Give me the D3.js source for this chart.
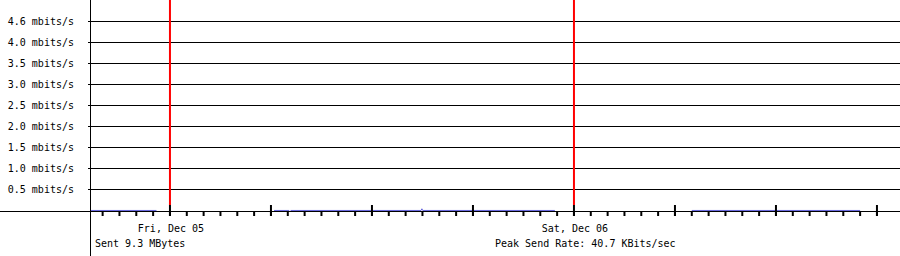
<!DOCTYPE html>
<html>
<head>
<meta charset="utf-8">
<script src="https://cdn.jsdelivr.net/npm/d3@7"></script>
<style>
  html, body { margin: 0; padding: 0; background: #fff; }
  svg { display: block; }
</style>
</head>
<body>
<svg id="chart" width="900" height="256"></svg>
<script>
  // y axis ticks (mbits/s) and their printed labels
  var yTickValues = [0.5, 1, 1.5, 2, 2.5, 3, 3.5, 4, 4.5];
  var yTickLabels = ["0.5 mbits/s", "1.0 mbits/s", "1.5 mbits/s", "2.0 mbits/s",
    "2.5 mbits/s", "3.0 mbits/s", "3.5 mbits/s", "4.0 mbits/s", "4.6 mbits/s"];

  // day boundaries (red markers) and their labels
  var dayTimes = ["2025-12-05T00:00", "2025-12-06T00:00"];
  var dayLabels = ["Fri, Dec 05", "Sat, Dec 06"];

  // send rate in mbits/s, null = no data
  var sendTimes = [
    "2025-12-04T19:15", "2025-12-04T23:12", "2025-12-04T23:20",
    "2025-12-05T06:11", "2025-12-05T07:05", "2025-12-05T07:07",
    "2025-12-05T07:10", "2025-12-05T14:55", "2025-12-05T14:58",
    "2025-12-05T15:01", "2025-12-05T22:52", "2025-12-05T23:00",
    "2025-12-06T07:00", "2025-12-06T17:00"
  ];
  var sendValues = [
    0.001, 0.001, null,
    0.001, 0.001, null,
    0.001, 0.001, 0.0407,
    0.001, 0.001, null,
    0.001, 0.001
  ];

  var legendLeft = "Sent 9.3 MBytes";
  var legendRight = "Peak Send Rate: 40.7 KBits/sec";

  var parse = d3.timeParse("%Y-%m-%dT%H:%M");
  var font = "'DejaVu Sans Mono', 'Liberation Mono', monospace";

  var svg = d3.select("#chart");

  var xScale = d3.scaleTime()
    .domain([parse("2025-12-04T19:15"), parse("2025-12-06T18:40")])
    .range([90, 90 + 16.8333 * 47.4167]);

  var yScale = d3.scaleLinear()
    .domain([0, 5])
    .range([210.5, 0.5]);

  // grid + y labels
  var yAxis = d3.axisLeft(yScale)
    .tickValues(yTickValues)
    .tickFormat(function (d, i) { return yTickLabels[i]; })
    .tickSizeInner(-812)
    .tickSizeOuter(0)
    .tickPadding(14)
    .offset(0);

  var gy = svg.append("g")
    .attr("transform", "translate(88,0)")
    .call(yAxis);
  gy.select(".domain").remove();
  gy.attr("font-family", font).attr("font-size", 10);
  gy.selectAll(".tick line")
    .attr("stroke", "#000")
    .attr("shape-rendering", "crispEdges");
  gy.selectAll(".tick text").attr("fill", "#000");

  // red day markers
  svg.append("g").selectAll("line")
    .data(dayTimes)
    .enter().append("line")
    .attr("x1", function (d) { return xScale(parse(d)); })
    .attr("x2", function (d) { return xScale(parse(d)); })
    .attr("y1", 0)
    .attr("y2", 205)
    .attr("stroke", "#ff0000")
    .attr("stroke-width", 2);

  // send rate line
  var sendData = sendTimes.map(function (t, i) {
    return { t: parse(t), v: sendValues[i] };
  });
  var line = d3.line()
    .defined(function (d) { return d.v !== null; })
    .x(function (d) { return xScale(d.t); })
    .y(function (d) { return yScale(d.v); });

  svg.append("path")
    .datum(sendData)
    .attr("d", line)
    .attr("fill", "none")
    .attr("stroke", "#6464dc")
    .attr("stroke-width", 1);

  // axes lines
  svg.append("line")
    .attr("x1", 0).attr("x2", 900)
    .attr("y1", 211.5).attr("y2", 211.5)
    .attr("stroke", "#000");
  svg.append("line")
    .attr("x1", 90.5).attr("x2", 90.5)
    .attr("y1", 0).attr("y2", 256)
    .attr("stroke", "#000");

  // hourly minor ticks
  var minorAxis = d3.axisBottom(xScale)
    .ticks(d3.timeHour.every(1))
    .tickSizeInner(5)
    .tickSizeOuter(0)
    .tickFormat("")
    .offset(0);
  var gMinor = svg.append("g")
    .attr("transform", "translate(0,211)")
    .call(minorAxis);
  gMinor.select(".domain").remove();
  gMinor.selectAll(".tick line")
    .attr("stroke", "#000")
    .attr("stroke-width", 2);

  // 6-hour major ticks
  var majorAxis = d3.axisBottom(xScale)
    .ticks(d3.timeHour.every(6))
    .tickSizeInner(11)
    .tickSizeOuter(0)
    .tickFormat("")
    .offset(0);
  var gMajor = svg.append("g")
    .attr("transform", "translate(0,205)")
    .call(majorAxis);
  gMajor.select(".domain").remove();
  gMajor.selectAll(".tick line")
    .attr("stroke", "#000")
    .attr("stroke-width", 2);

  // day labels
  svg.append("g").selectAll("text")
    .data(dayTimes)
    .enter().append("text")
    .attr("x", function (d) { return xScale(parse(d)) + 1; })
    .attr("y", 232)
    .attr("text-anchor", "middle")
    .attr("font-family", font)
    .attr("font-size", 10)
    .attr("fill", "#000")
    .text(function (d, i) { return dayLabels[i]; });

  // legend
  svg.append("text")
    .attr("x", 95).attr("y", 247)
    .attr("font-family", font).attr("font-size", 10)
    .attr("fill", "#000")
    .text(legendLeft);
  svg.append("text")
    .attr("x", 495).attr("y", 247)
    .attr("font-family", font).attr("font-size", 10)
    .attr("fill", "#000")
    .text(legendRight);
</script>
</body>
</html>
